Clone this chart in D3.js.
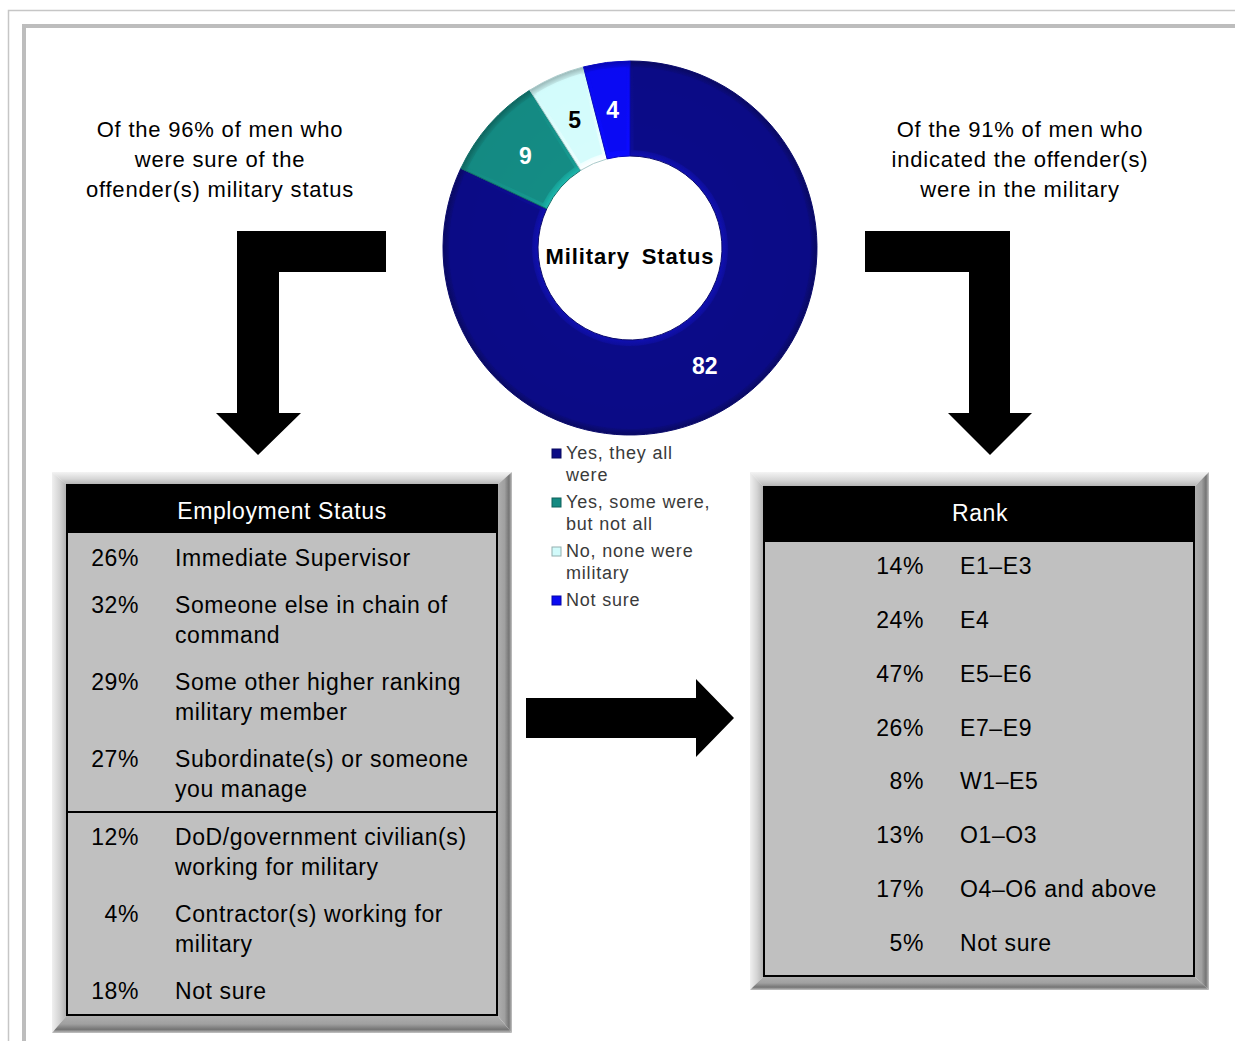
<!DOCTYPE html>
<html><head><meta charset="utf-8">
<script src="https://cdn.jsdelivr.net/npm/d3@7"></script>
<style>
html,body{margin:0;padding:0;background:#fff;}
svg{display:block;font-family:Arial,"Liberation Sans",sans-serif;}
</style></head>
<body>
<svg id="chart" width="1235" height="1041"></svg>
<script>
// ---------- data ----------
const statusCategories = ["Yes, they all were", "Yes, some were, but not all", "No, none were military", "Not sure"];
const statusValues = [82, 9, 5, 4];
const statusLegendLines = [["Yes, they all", "were"], ["Yes, some were,", "but not all"], ["No, none were", "military"], ["Not sure"]];
const statusColors = ["#0c0c86", "#148a82", "#d2fbfb", "#0a0af2"];
const statusLabelColors = ["#fff", "#fff", "#000", "#fff"];

const leftNote = ["Of the 96% of men who", "were sure of the", "offender(s) military status"];
const rightNote = ["Of the 91% of men who", "indicated the offender(s)", "were in the military"];

const employmentTitle = "Employment Status";
const employmentPct = ["26%", "32%", "29%", "27%", "12%", "4%", "18%"];
const employmentLabels = [
  ["Immediate Supervisor"],
  ["Someone else in chain of", "command"],
  ["Some other higher ranking", "military member"],
  ["Subordinate(s) or someone", "you manage"],
  ["DoD/government civilian(s)", "working for military"],
  ["Contractor(s) working for", "military"],
  ["Not sure"]
];
const employmentMilitaryRows = 4; // rows above the divider

const rankTitle = "Rank";
const rankPct = ["14%", "24%", "47%", "26%", "8%", "13%", "17%", "5%"];
const rankLabels = ["E1\u2013E3", "E4", "E5\u2013E6", "E7\u2013E9", "W1\u2013E5", "O1\u2013O3", "O4\u2013O6 and above", "Not sure"];

// ---------- drawing ----------
const svg = d3.select("#chart");
const defs = svg.append("defs");
const FS = 23, LS = 0.6; // table text size / letter spacing

// page frames
svg.append("path").attr("d", "M8.5,1041 V10.5 H1235").attr("fill", "none").attr("stroke", "#c6c6c6").attr("stroke-width", 1.5);
svg.append("path").attr("d", "M24,1041 V26 H1235").attr("fill", "none").attr("stroke", "#bdbdbd").attr("stroke-width", 4);

// gradients for bevel frames
function lg(id, x1, y1, x2, y2, stops) {
  const g = defs.append("linearGradient").attr("id", id).attr("x1", x1).attr("y1", y1).attr("x2", x2).attr("y2", y2);
  stops.forEach(s => g.append("stop").attr("offset", s[0]).attr("stop-color", s[1]));
}
lg("bTop", 0, 0, 0, 1, [[0, "#f4f4f4"], [0.5, "#d8d8d8"], [1, "#b0b0b0"]]);
lg("bLeft", 0, 0, 1, 0, [[0, "#f0f0f0"], [0.5, "#d4d4d4"], [1, "#acacac"]]);
lg("bRight", 0, 0, 1, 0, [[0, "#b0b0b0"], [0.5, "#a0a0a0"], [0.8, "#747474"], [1, "#c4c4c4"]]);
lg("bBottom", 0, 0, 0, 1, [[0, "#b0b0b0"], [0.5, "#a0a0a0"], [0.8, "#747474"], [1, "#c4c4c4"]]);

function bevelBox(x0, y0, x1, y1, ix0, iy0, ix1, iy1) {
  const g = svg.append("g");
  g.append("polygon").attr("points", [[x0, y0], [x1, y0], [ix1, iy0], [ix0, iy0]].join(" ")).attr("fill", "url(#bTop)");
  g.append("polygon").attr("points", [[x0, y0], [ix0, iy0], [ix0, iy1], [x0, y1]].join(" ")).attr("fill", "url(#bLeft)");
  g.append("polygon").attr("points", [[x1, y0], [x1, y1], [ix1, iy1], [ix1, iy0]].join(" ")).attr("fill", "url(#bRight)");
  g.append("polygon").attr("points", [[x0, y1], [ix0, iy1], [ix1, iy1], [x1, y1]].join(" ")).attr("fill", "url(#bBottom)");
  g.append("rect").attr("x", ix0).attr("y", iy0).attr("width", ix1 - ix0).attr("height", iy1 - iy0)
    .attr("fill", "#c0c0c0").attr("stroke", "#000").attr("stroke-width", 2);
  return g;
}

// ---------- donut ----------
const cx = 630, cy = 248, rOuter = 187, rInner = 92;
const pie = d3.pie().sort(null).value(d => d)(statusValues);
const arcOuter = d3.arc().innerRadius(rInner).outerRadius(rOuter);
const arcInset = d3.arc().innerRadius(rInner + 6).outerRadius(rOuter - 6).padAngle(0.035);
const donut = svg.append("g").attr("transform", `translate(${cx},${cy})`);

statusColors.forEach((c, i) => {
  const base = d3.color(c);
  const rg = defs.append("radialGradient").attr("id", "sl" + i).attr("gradientUnits", "userSpaceOnUse")
    .attr("cx", 0).attr("cy", 0).attr("r", rOuter);
  rg.append("stop").attr("offset", rInner / rOuter).attr("stop-color", base.brighter(0.8));
  rg.append("stop").attr("offset", (rInner + 7) / rOuter).attr("stop-color", base.brighter(0.3));
  rg.append("stop").attr("offset", (rOuter - 8) / rOuter).attr("stop-color", base);
  rg.append("stop").attr("offset", 1).attr("stop-color", base.darker(0.9));
});

donut.selectAll("path.slice").data(pie).join("path").attr("class", "slice")
  .attr("d", arcOuter).attr("fill", (d, i) => `url(#sl${i})`)
  .attr("stroke", (d, i) => d3.color(statusColors[i]).darker(0.6)).attr("stroke-width", 1);
donut.selectAll("path.inset").data(pie).join("path").attr("class", "inset")
  .attr("d", arcInset).attr("fill", (d, i) => statusColors[i]).attr("opacity", 0.85);

donut.selectAll("text.val").data(pie).join("text").attr("class", "val")
  .attr("transform", d => `translate(${arcOuter.centroid(d)})`)
  .attr("text-anchor", "middle").attr("dy", "0.36em")
  .attr("font-size", 23).attr("font-weight", "bold")
  .attr("fill", (d, i) => statusLabelColors[i]).text(d => d.value);

donut.append("text").attr("x", 0).attr("y", 16).attr("text-anchor", "middle")
  .attr("font-size", 22).attr("font-weight", "bold").attr("word-spacing", 5).attr("letter-spacing", 0.9)
  .text("Military Status");

// legend
const legend = svg.append("g").attr("transform", "translate(552,453)");
let ly = 0;
statusLegendLines.forEach((lines, i) => {
  const g = legend.append("g").attr("transform", `translate(0,${ly})`);
  g.append("rect").attr("x", 0).attr("y", -4).attr("width", 9).attr("height", 9)
    .attr("fill", statusColors[i]).attr("stroke", d3.color(statusColors[i]).darker(1)).attr("stroke-width", 1);
  lines.forEach((t, j) => g.append("text").attr("x", 14).attr("y", j * 22 + 6)
    .attr("font-size", 18).attr("fill", "#3a3a3a").attr("letter-spacing", 0.8).text(t));
  ly += 22 * lines.length + 5;
});

// notes
function note(lines, x) {
  svg.append("g").selectAll("text").data(lines).join("text")
    .attr("x", x).attr("y", (d, i) => 137 + i * 30).attr("text-anchor", "middle")
    .attr("font-size", 22).attr("fill", "#000").attr("letter-spacing", 0.8).text(d => d);
}
note(leftNote, 220);
note(rightNote, 1020);

// arrows
svg.append("path").attr("d", "M237,231 H386 V272 H279 V413 H301 L258,455 L216,413 H237 Z").attr("fill", "#000");
svg.append("path").attr("d", "M865,231 H1010 V413 H1032 L990,455 L948,413 H969 V272 H865 Z").attr("fill", "#000");
svg.append("path").attr("d", "M526,698 H696 V679 L734,718 L696,757 V738 H526 Z").attr("fill", "#000");

// ---------- employment box ----------
bevelBox(52, 472, 512, 1033, 67, 485, 497, 1015);
svg.append("rect").attr("x", 67).attr("y", 485).attr("width", 430).attr("height", 48).attr("fill", "#000");
svg.append("text").attr("x", 282).attr("y", 519).attr("text-anchor", "middle").attr("fill", "#fff")
  .attr("font-size", FS).attr("letter-spacing", LS).text(employmentTitle);

const empStarts = [];
let ey = 566;
employmentLabels.forEach((lines, i) => {
  empStarts.push(ey);
  ey += 47 + 30 * (lines.length - 1) + (i === employmentMilitaryRows - 1 ? 1 : 0);
});
const emp = svg.append("g");
employmentPct.forEach((p, i) => {
  emp.append("text").attr("x", 139).attr("y", empStarts[i]).attr("text-anchor", "end")
    .attr("font-size", FS).attr("letter-spacing", LS).text(p);
  employmentLabels[i].forEach((t, j) => emp.append("text").attr("x", 175).attr("y", empStarts[i] + j * 30)
    .attr("font-size", FS).attr("letter-spacing", LS).text(t));
});
svg.append("line").attr("x1", 67).attr("x2", 497).attr("y1", 812).attr("y2", 812).attr("stroke", "#000").attr("stroke-width", 2);

// ---------- rank box ----------
bevelBox(750, 472, 1209, 990, 764, 487, 1194, 976);
svg.append("rect").attr("x", 764).attr("y", 487).attr("width", 430).attr("height", 55).attr("fill", "#000");
svg.append("text").attr("x", 980).attr("y", 521).attr("text-anchor", "middle").attr("fill", "#fff")
  .attr("font-size", FS).attr("letter-spacing", LS).text(rankTitle);

const rankY = d3.scalePoint().domain(rankLabels).range([574, 951]);
const rk = svg.append("g");
rk.selectAll("text.p").data(rankPct).join("text").attr("class", "p")
  .attr("x", 924).attr("y", (d, i) => rankY(rankLabels[i])).attr("text-anchor", "end")
  .attr("font-size", FS).attr("letter-spacing", LS).text(d => d);
rk.selectAll("text.l").data(rankLabels).join("text").attr("class", "l")
  .attr("x", 960).attr("y", d => rankY(d))
  .attr("font-size", FS).attr("letter-spacing", LS).text(d => d);
</script>
</body></html>
